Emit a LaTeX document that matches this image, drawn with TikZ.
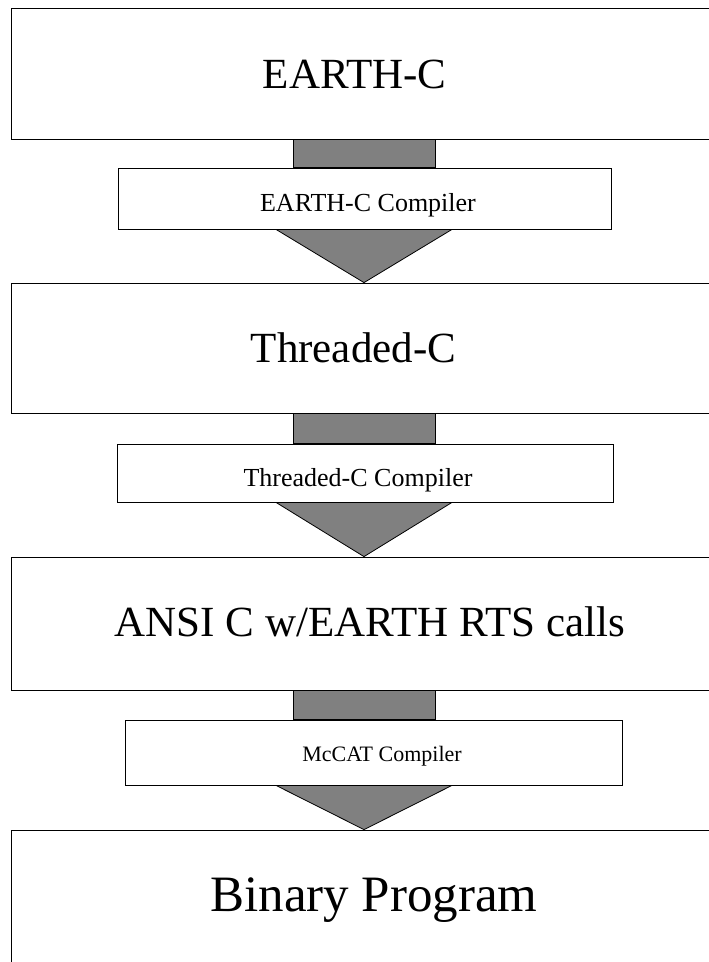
\documentclass[tikz,border=0pt]{standalone}
\usepackage{fontspec}
\setmainfont{Liberation Serif}
\usetikzlibrary{calc}

\tikzset{
	stage/.style={draw, fill=white, line width=0.8pt, minimum width=706pt, inner sep=0pt},
	comp/.style={draw, fill=white, line width=0.8pt, inner sep=0pt},
	pipe/.style={draw, fill=gray, line width=0.8pt, line join=miter},
	bigtext/.style={anchor=base, inner sep=0pt, font=\fontsize{43}{50}\selectfont},
	comptext/.style={anchor=base, inner sep=0pt, font=\fontsize{26}{30}\selectfont}
}

\begin{document}
\begin{tikzpicture}[x=1pt,y=-1pt]
		\useasboundingbox (0,0) rectangle (709,962);
		\clip (0,0) rectangle (709,962);
		
		%stages
		\node[stage, minimum height=131pt] (s1) at (364,73.5) {};
		\node[stage, minimum height=130pt] (s2) at (364,348) {};
		\node[stage, minimum height=133pt] (s3) at (364,623.5) {};
		\node[stage, minimum height=140pt] (s4) at (364,900) {};
		
		%compilers
		\node[comp, minimum width=493pt, minimum height=61pt] (c1) at (364.5,198.5) {};
		\node[comp, minimum width=496pt, minimum height=58pt] (c2) at (365,473) {};
		\node[comp, minimum width=497pt, minimum height=65pt] (c3) at (373.5,752.5) {};
		
		%arrows: stem + head
		\foreach \a/\b/\c in {s1/c1/s2, s2/c2/s3, s3/c3/s4}{
			\draw[pipe] ($(\a.south)+(-71,0)$) rectangle ($(\b.north -| \a.south)+(71,0)$);
			\draw[pipe] ($(\b.south -| \a.south)+(-88,0)$) -- ($(\b.south -| \a.south)+(88,0)$) -- (\c.north) -- cycle;
		}
		
		%labels
		\node[bigtext] (t1) at (354.7,88.3) {EARTH-C};
		\node[bigtext] (t2) at (353.4,362.3) {Threaded-C};
		\node[bigtext] (t3) at (370,636.7) {ANSI C w/EARTH RTS calls};
		\node[bigtext, font=\fontsize{51}{58}\selectfont] (t4) at (374,911.7) {Binary Program};
		\node[comptext] (l1) at (368,211.7) {EARTH-C Compiler};
		\node[comptext] (l2) at (358,486) {Threaded-C Compiler};
		\node[comptext, font=\fontsize{22}{26}\selectfont] (l3) at (382,761.7) {McCAT Compiler};
		
\end{tikzpicture}
\end{document}
